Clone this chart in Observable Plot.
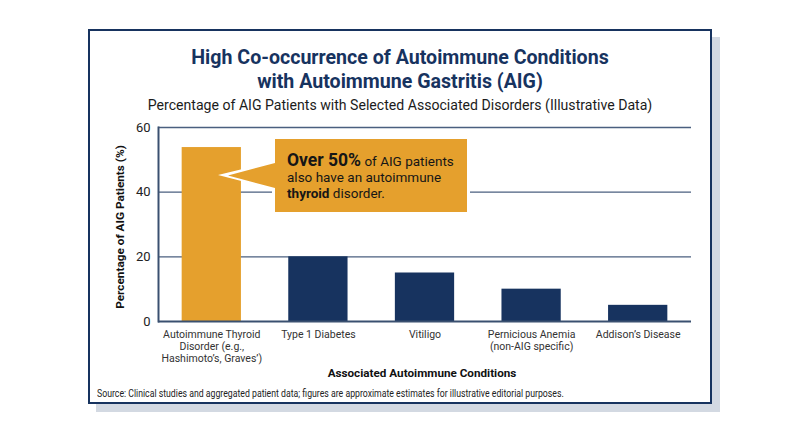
<!DOCTYPE html>
<html><head><meta charset="utf-8">
<script src="https://cdn.jsdelivr.net/npm/d3@7"></script>
<script src="https://cdn.jsdelivr.net/npm/@observablehq/plot@0.6"></script>
<style>
html,body{margin:0;padding:0;background:#fff;width:800px;height:447px;overflow:hidden;font-family:Roboto,sans-serif}
.shadow{position:absolute;left:96px;top:37px;width:624px;height:375px;background:#d3d9e2}
.card{position:absolute;left:88px;top:29px;width:620px;height:371px;background:#fff;border:2px solid #17335f}
.abs{position:absolute;left:0;width:800px;text-align:center}
#title{top:46px;font-size:19.6px;line-height:24px;font-weight:700;color:#17335f}
#sub{top:95px;font-size:14.1px;line-height:20px;color:#1c1c1c}
#chart{position:absolute;left:0;top:115px}
#source{position:absolute;left:97px;top:387px;font-size:10.5px;line-height:13px;color:#222;white-space:nowrap;transform-origin:left top;transform:scaleX(.83)}
.halo,.fill{position:absolute;left:0;top:0;width:800px;height:447px}
.halo{background:#fff;clip-path:polygon(218px 175px,272px 162px,272px 136px,470px 136px,470px 215px,272px 215px,272px 189px)}
.fill{background:#e5a02d;clip-path:polygon(228px 175.5px,275px 163px,275px 139px,467px 139px,467px 212px,275px 212px,275px 188px)}
#note{position:absolute;left:287px;top:152px;width:175px;font-size:13.5px;line-height:16px;color:#161616;white-space:nowrap}
#note b.big{font-size:17.5px}
</style></head><body>
<div class="shadow"></div><div class="card"></div>
<div class="abs" id="title">High Co-occurrence of Autoimmune Conditions<br>with Autoimmune Gastritis (AIG)</div>
<div class="abs" id="sub">Percentage of AIG Patients with Selected Associated Disorders (Illustrative Data)</div>
<div id="chart"></div>
<div class="halo"></div><div class="fill"></div>
<div id="note"><b class="big">Over 50%</b> of AIG patients<br>also have an autoimmune<br><b>thyroid</b> disorder.</div>
<div id="source">Source: Clinical studies and aggregated patient data; figures are approximate estimates for illustrative editorial purposes.</div>
<script>
const categories = ["Autoimmune Thyroid\nDisorder (e.g.,\nHashimoto’s, Graves’)","Type 1 Diabetes","Vitiligo","Pernicious Anemia\n(non-AIG specific)","Addison’s Disease"];
const values = [53.8,20,15,10,5];
const highlighted = [true,false,false,false,false];
const yTicks = [0,20,40,60];
const gridTicks = [20,40,60];
const xTitle = ["Associated Autoimmune Conditions"];
const yTitle = ["Percentage of AIG Patients (%)"];
const rows = categories.map((c,i)=>({c,v:values[i],h:highlighted[i]}));
const navy="#17335f", gold="#e5a02d";
const svg = Plot.plot({
  width:800,height:270,marginTop:12,marginBottom:64,marginLeft:158,marginRight:109,
  style:{fontFamily:"Roboto, sans-serif",background:"transparent",overflow:"visible"},
  x:{domain:categories,paddingInner:0.444,paddingOuter:0.222,align:0.5,round:false,axis:null},
  y:{domain:[0,60],axis:null},
  marks:[
    Plot.ruleY(gridTicks,{stroke:"#4a5f7f",strokeWidth:1.4}),
    Plot.frame({anchor:"left",stroke:"#3a5070",strokeWidth:2}),
    Plot.barY(rows,{x:"c",y:"v",fill:d=>d.h?gold:navy}),
    Plot.ruleY([0],{stroke:"#3a5070",strokeWidth:2}),
    Plot.axisY({ticks:yTicks,tickSize:0,tickPadding:8,fontSize:13,color:"#222",label:null}),
    Plot.axisX({tickSize:0,tickPadding:8,fontSize:10.5,color:"#333",lineHeight:1.15,label:null}),
    Plot.text(xTitle,{frameAnchor:"bottom",lineAnchor:"middle",dx:-3,dy:52,fontSize:11.7,fontWeight:700,fill:"#111"}),
    Plot.text(yTitle,{frameAnchor:"left",rotate:-90,lineAnchor:"middle",textAnchor:"middle",dx:-38,dy:2.5,fontSize:11.8,fontWeight:700,fill:"#111"}),
  ]
});
document.getElementById("chart").append(svg);
</script>
</body></html>
